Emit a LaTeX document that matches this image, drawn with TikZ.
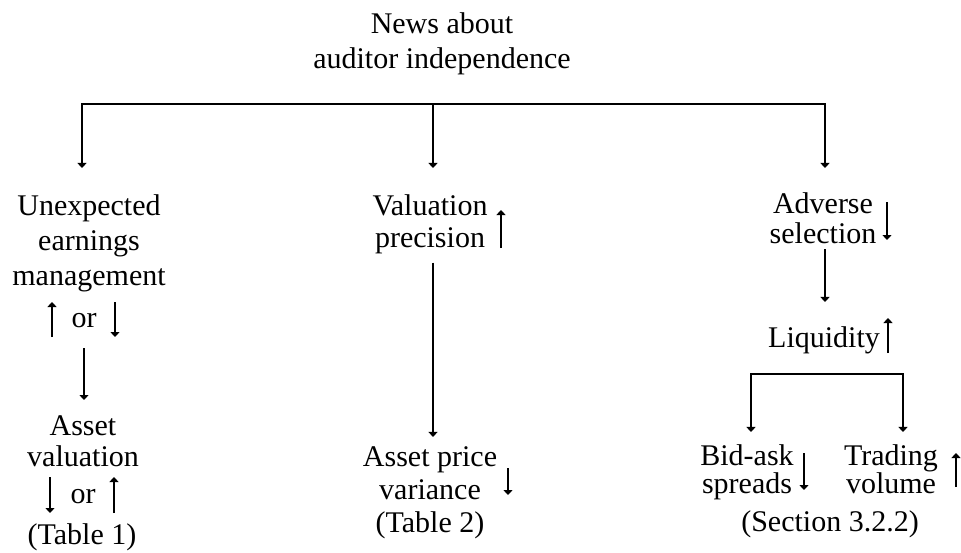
\documentclass[tikz,border=0pt]{standalone}
\usepackage{fontspec}
\setmainfont{Liberation Serif}
\usetikzlibrary{arrows.meta}

\begin{document}
\begin{tikzpicture}[x=1pt,y=-1pt,
  txt/.style={font=\fontsize{30}{34}\selectfont,inner sep=0pt,align=center,anchor=base},
  conn/.style={-{Triangle[length=5pt,width=9pt]},line width=1.4pt},
  bar/.style={line width=1.4pt,line cap=rect}]
  \useasboundingbox (0,0) rectangle (961,552);
  % root and top bar (base = last line)
  \node[txt,font=\fontsize{30}{35}\selectfont] (news) at (442,68) {News about\\auditor independence};
  \coordinate (bl) at (82,104);
  \coordinate (bm) at (433,104);
  \coordinate (br) at (825,104);
  \draw[bar] (bl) -- (br);
  % left branch
  \node[txt,font=\fontsize{30}{35}\selectfont] (unexp) at (89,285) {Unexpected\\earnings\\management};
  \draw[conn,shorten >=26pt] (bl) -- (bl |- unexp.north);
  \node[txt] (orA) at (84,327) {or};
  \draw[conn] (52,337) -- (52,302);
  \draw[conn] (115,302) -- (115,337);
  \node[txt,font=\fontsize{30}{31}\selectfont] (asset) at (83,466) {Asset\\valuation};
  \draw[conn,shorten <=21pt,shorten >=15pt] (orA.south) -- (orA.south |- asset.north);
  \node[txt] (orB) at (83,503) {or};
  \draw[conn] (50,477) -- (50,513);
  \draw[conn] (114,513) -- (114,477);
  \node[txt] (tab1) at (82,544) {(Table 1)};
  % middle branch
  \node[txt,font=\fontsize{30}{32}\selectfont] (valp) at (430,247) {Valuation\\precision};
  \draw[conn,shorten >=26pt] (bm) -- (bm |- valp.north);
  \draw[conn] (501,248) -- (501,210);
  \node[txt,font=\fontsize{30}{33}\selectfont] (aprice) at (430,532) {Asset price\\variance\\(Table 2)};
  \draw[conn,shorten <=9pt,shorten >=9pt] (valp.south -| bm) -- (aprice.north -| bm);
  \draw[conn] (508,468) -- (508,495);
  % right branch
  \node[txt,font=\fontsize{30}{30}\selectfont] (adv) at (823,243) {Adverse\\selection};
  \draw[conn,shorten >=24pt] (br) -- (br |- adv.north);
  \draw[conn] (887,202) -- (887,240);
  \node[txt] (liq) at (824,347) {Liquidity};
  \draw[conn,shorten <=6pt,shorten >=24pt] (adv.south -| br) -- (liq.north -| br);
  \draw[conn] (888,353) -- (888,318);
  \coordinate (sl) at (751,374);
  \coordinate (sr) at (903,374);
  \draw[bar] (sl) -- (sr);
  \node[txt,font=\fontsize{30}{28}\selectfont] (bid) at (747,493) {Bid-ask\\spreads};
  \node[txt,font=\fontsize{30}{28}\selectfont] (trad) at (891,493) {Trading\\volume};
  \draw[conn,shorten >=12pt] (sl) -- (sl |- bid.north);
  \draw[conn,shorten >=12pt] (sr) -- (sr |- trad.north);
  \draw[conn] (804,453) -- (804,490);
  \draw[conn] (956,487) -- (956,453);
  \node[txt] (sect) at (830,531) {(Section 3.2.2)};
\end{tikzpicture}
\end{document}
